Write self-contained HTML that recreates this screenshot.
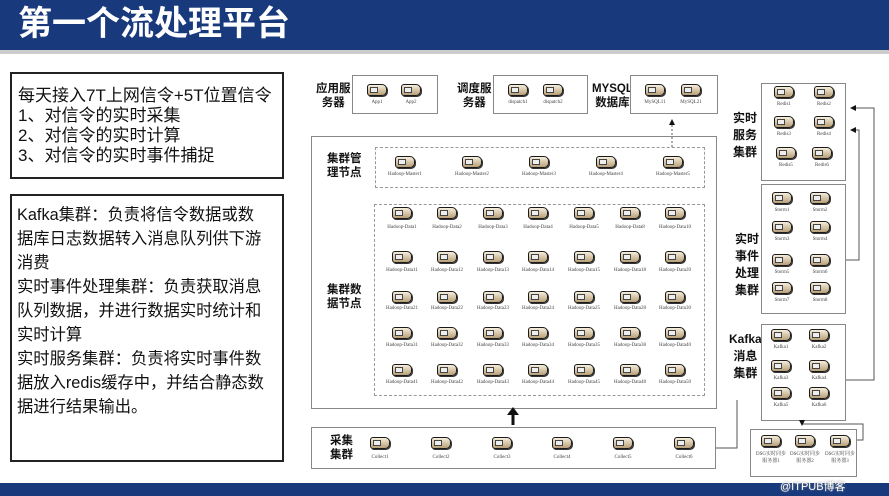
<!DOCTYPE html>
<html><head><meta charset="utf-8"><style>
*{margin:0;padding:0;box-sizing:border-box}
body{width:889px;height:496px;position:relative;background:#fff;overflow:hidden;font-family:"Liberation Sans","Noto Sans CJK SC",sans-serif}
.a{position:absolute}
.box{position:absolute;border:1.5px solid #888;background:#fff}
.bk{border:2px solid #222}
.dash{position:absolute;border:1px dashed #999}
.s{position:absolute;width:20px;height:12px;margin:-6px 0 0 -10px;border:1.5px solid #1a1a1a;border-radius:3px 5px 5px 3px;background:linear-gradient(#f6eedc,#b8a078);box-shadow:1px 1px 0 #333}
.s:before{content:"";position:absolute;left:2px;top:2px;width:6px;height:4px;border:1px solid #444;background:#eee}
.l{position:absolute;font-size:5px;color:#444;width:50px;margin-left:-25px;text-align:center;white-space:nowrap;font-family:"Liberation Serif","Noto Serif CJK SC",serif}
.lab{position:absolute;font-weight:bold;font-size:11.5px;line-height:14px;color:#111;text-align:center}
.t{position:absolute;font-size:15.5px;color:#111;white-space:nowrap}
</style></head><body>
<div class="a" style="left:0;top:0;width:889px;height:50px;background:#183a7c"></div>
<div class="a" style="left:0;top:50px;width:889px;height:4px;background:#ccc"></div>
<div class="a" style="left:18px;top:3px;color:#fff;font-size:34px;font-weight:bold;line-height:42px">第一个流处理平台</div>
<div class="a" style="left:0;top:483px;width:889px;height:13px;background:#183a7c"></div>
<div class="a" style="left:780px;top:478px;font-size:11px;color:#fff;text-shadow:0 0 2px #888">@ITPUB博客</div>

<div class="box bk" style="left:10px;top:72px;width:274px;height:107px"></div>
<div class="t" style="left:18px;top:86px;line-height:20px;font-size:17px">每天接入7T上网信令+5T位置信令<br>1、对信令的实时采集<br>2、对信令的实时计算<br>3、对信令的实时事件捕捉</div>
<div class="box bk" style="left:10px;top:194px;width:274px;height:268px"></div>
<div class="t" style="left:17px;top:203px;line-height:24px;font-size:16.3px">Kafka集群：负责将信令数据或数<br>据库日志数据转入消息队列供下游<br>消费<br>实时事件处理集群：负责获取消息<br>队列数据，并进行数据实时统计和<br>实时计算<br>实时服务集群：负责将实时事件数<br>据放入redis缓存中，并结合静态数<br>据进行结果输出。</div>

<!-- top boxes -->
<div class="lab" style="left:316px;top:82px">应用服<br>务器</div>
<div class="box" style="left:352px;top:75px;width:86px;height:39px"></div>
<div class="s" style="left:377px;top:90px"></div><div class="l" style="left:377px;top:100px">App1</div>
<div class="s" style="left:411px;top:90px"></div><div class="l" style="left:411px;top:100px">App2</div>
<div class="lab" style="left:457px;top:82px">调度服<br>务器</div>
<div class="box" style="left:493px;top:75px;width:95px;height:39px"></div>
<div class="s" style="left:518px;top:90px"></div><div class="l" style="left:518px;top:100px">dispatch1</div>
<div class="s" style="left:553px;top:90px"></div><div class="l" style="left:553px;top:100px">dispatch2</div>
<div class="lab" style="left:592px;top:82px">MYSQL<br>数据库</div>
<div class="box" style="left:630px;top:75px;width:88px;height:39px"></div>
<div class="s" style="left:655px;top:90px"></div><div class="l" style="left:655px;top:100px">MySQL11</div>
<div class="s" style="left:691px;top:90px"></div><div class="l" style="left:691px;top:100px">MySQL21</div>

<!-- big cluster -->
<div class="box" style="left:311px;top:136px;width:406px;height:273px"></div>
<div class="lab" style="left:327px;top:152px">集群管<br>理节点</div>
<div class="dash" style="left:375px;top:147px;width:330px;height:41px"></div>
<div class="s" style="left:405px;top:162px"></div><div class="l" style="left:405px;top:172px">Hadoop-Master1</div>
<div class="s" style="left:472px;top:162px"></div><div class="l" style="left:472px;top:172px">Hadoop-Master2</div>
<div class="s" style="left:539px;top:162px"></div><div class="l" style="left:539px;top:172px">Hadoop-Master3</div>
<div class="s" style="left:606px;top:162px"></div><div class="l" style="left:606px;top:172px">Hadoop-Master4</div>
<div class="s" style="left:673px;top:162px"></div><div class="l" style="left:673px;top:172px">Hadoop-Master5</div>
<div class="lab" style="left:327px;top:283px">集群数<br>据节点</div>
<div class="dash" style="left:374px;top:204px;width:331px;height:192px"></div>

<div class="s" style="left:402px;top:213px"></div><div class="l" style="left:402px;top:225px">Hadoop-Data1</div>
<div class="s" style="left:447px;top:213px"></div><div class="l" style="left:447px;top:225px">Hadoop-Data2</div>
<div class="s" style="left:493px;top:213px"></div><div class="l" style="left:493px;top:225px">Hadoop-Data3</div>
<div class="s" style="left:538px;top:213px"></div><div class="l" style="left:538px;top:225px">Hadoop-Data4</div>
<div class="s" style="left:584px;top:213px"></div><div class="l" style="left:584px;top:225px">Hadoop-Data5</div>
<div class="s" style="left:630px;top:213px"></div><div class="l" style="left:630px;top:225px">Hadoop-Data8</div>
<div class="s" style="left:675px;top:213px"></div><div class="l" style="left:675px;top:225px">Hadoop-Data10</div>

<div class="s" style="left:402px;top:257px"></div><div class="l" style="left:402px;top:268px">Hadoop-Data11</div>
<div class="s" style="left:447px;top:257px"></div><div class="l" style="left:447px;top:268px">Hadoop-Data12</div>
<div class="s" style="left:493px;top:257px"></div><div class="l" style="left:493px;top:268px">Hadoop-Data13</div>
<div class="s" style="left:538px;top:257px"></div><div class="l" style="left:538px;top:268px">Hadoop-Data14</div>
<div class="s" style="left:584px;top:257px"></div><div class="l" style="left:584px;top:268px">Hadoop-Data15</div>
<div class="s" style="left:630px;top:257px"></div><div class="l" style="left:630px;top:268px">Hadoop-Data18</div>
<div class="s" style="left:675px;top:257px"></div><div class="l" style="left:675px;top:268px">Hadoop-Data20</div>

<div class="s" style="left:402px;top:297px"></div><div class="l" style="left:402px;top:306px">Hadoop-Data21</div>
<div class="s" style="left:447px;top:297px"></div><div class="l" style="left:447px;top:306px">Hadoop-Data22</div>
<div class="s" style="left:493px;top:297px"></div><div class="l" style="left:493px;top:306px">Hadoop-Data23</div>
<div class="s" style="left:538px;top:297px"></div><div class="l" style="left:538px;top:306px">Hadoop-Data24</div>
<div class="s" style="left:584px;top:297px"></div><div class="l" style="left:584px;top:306px">Hadoop-Data25</div>
<div class="s" style="left:630px;top:297px"></div><div class="l" style="left:630px;top:306px">Hadoop-Data28</div>
<div class="s" style="left:675px;top:297px"></div><div class="l" style="left:675px;top:306px">Hadoop-Data30</div>

<div class="s" style="left:402px;top:333px"></div><div class="l" style="left:402px;top:343px">Hadoop-Data31</div>
<div class="s" style="left:447px;top:333px"></div><div class="l" style="left:447px;top:343px">Hadoop-Data32</div>
<div class="s" style="left:493px;top:333px"></div><div class="l" style="left:493px;top:343px">Hadoop-Data33</div>
<div class="s" style="left:538px;top:333px"></div><div class="l" style="left:538px;top:343px">Hadoop-Data34</div>
<div class="s" style="left:584px;top:333px"></div><div class="l" style="left:584px;top:343px">Hadoop-Data35</div>
<div class="s" style="left:630px;top:333px"></div><div class="l" style="left:630px;top:343px">Hadoop-Data38</div>
<div class="s" style="left:675px;top:333px"></div><div class="l" style="left:675px;top:343px">Hadoop-Data40</div>

<div class="s" style="left:402px;top:370px"></div><div class="l" style="left:402px;top:380px">Hadoop-Data41</div>
<div class="s" style="left:447px;top:370px"></div><div class="l" style="left:447px;top:380px">Hadoop-Data42</div>
<div class="s" style="left:493px;top:370px"></div><div class="l" style="left:493px;top:380px">Hadoop-Data43</div>
<div class="s" style="left:538px;top:370px"></div><div class="l" style="left:538px;top:380px">Hadoop-Data44</div>
<div class="s" style="left:584px;top:370px"></div><div class="l" style="left:584px;top:380px">Hadoop-Data45</div>
<div class="s" style="left:630px;top:370px"></div><div class="l" style="left:630px;top:380px">Hadoop-Data48</div>
<div class="s" style="left:675px;top:370px"></div><div class="l" style="left:675px;top:380px">Hadoop-Data50</div>

<!-- collect -->
<div class="box" style="left:311px;top:427px;width:405px;height:42px"></div>
<div class="lab" style="left:330px;top:434px">采集<br>集群</div>
<div class="s" style="left:380px;top:443px"></div><div class="l" style="left:380px;top:455px">Collect1</div>
<div class="s" style="left:441px;top:443px"></div><div class="l" style="left:441px;top:455px">Collect2</div>
<div class="s" style="left:502px;top:443px"></div><div class="l" style="left:502px;top:455px">Collect3</div>
<div class="s" style="left:562px;top:443px"></div><div class="l" style="left:562px;top:455px">Collect4</div>
<div class="s" style="left:623px;top:443px"></div><div class="l" style="left:623px;top:455px">Collect5</div>
<div class="s" style="left:684px;top:443px"></div><div class="l" style="left:684px;top:455px">Collect6</div>

<!-- right -->
<div class="lab" style="left:733px;top:110px;font-size:12px;line-height:17px">实时<br>服务<br>集群</div>
<div class="box" style="left:761px;top:83px;width:85px;height:98px"></div>
<div class="s" style="left:784px;top:92px"></div><div class="l" style="left:784px;top:102px">Redis1</div>
<div class="s" style="left:824px;top:92px"></div><div class="l" style="left:824px;top:102px">Redis2</div>
<div class="s" style="left:784px;top:122px"></div><div class="l" style="left:784px;top:132px">Redis3</div>
<div class="s" style="left:824px;top:122px"></div><div class="l" style="left:824px;top:132px">Redis4</div>
<div class="s" style="left:786px;top:153px"></div><div class="l" style="left:786px;top:163px">Redis5</div>
<div class="s" style="left:822px;top:153px"></div><div class="l" style="left:822px;top:163px">Redis6</div>

<div class="lab" style="left:735px;top:231px;font-size:12px;line-height:17px">实时<br>事件<br>处理<br>集群</div>
<div class="box" style="left:761px;top:184px;width:85px;height:130px"></div>
<div class="s" style="left:782px;top:198px"></div><div class="l" style="left:782px;top:208px">Storm1</div>
<div class="s" style="left:820px;top:198px"></div><div class="l" style="left:820px;top:208px">Storm2</div>
<div class="s" style="left:782px;top:227px"></div><div class="l" style="left:782px;top:237px">Storm3</div>
<div class="s" style="left:820px;top:227px"></div><div class="l" style="left:820px;top:237px">Storm4</div>
<div class="s" style="left:782px;top:260px"></div><div class="l" style="left:782px;top:270px">Storm5</div>
<div class="s" style="left:820px;top:260px"></div><div class="l" style="left:820px;top:270px">Storm6</div>
<div class="s" style="left:782px;top:288px"></div><div class="l" style="left:782px;top:298px">Storm7</div>
<div class="s" style="left:820px;top:288px"></div><div class="l" style="left:820px;top:298px">Storm8</div>

<div class="lab" style="left:729px;top:331px;font-size:12px;line-height:17px">Kafka<br>消息<br>集群</div>
<div class="box" style="left:761px;top:324px;width:85px;height:97px"></div>
<div class="s" style="left:781px;top:335px"></div><div class="l" style="left:781px;top:345px">Kafka1</div>
<div class="s" style="left:819px;top:335px"></div><div class="l" style="left:819px;top:345px">Kafka2</div>
<div class="s" style="left:781px;top:366px"></div><div class="l" style="left:781px;top:376px">Kafka3</div>
<div class="s" style="left:819px;top:366px"></div><div class="l" style="left:819px;top:376px">Kafka4</div>
<div class="s" style="left:781px;top:393px"></div><div class="l" style="left:781px;top:403px">Kafka5</div>
<div class="s" style="left:819px;top:393px"></div><div class="l" style="left:819px;top:403px">Kafka6</div>

<div class="box" style="left:750px;top:429px;width:107px;height:48px"></div>
<div class="s" style="left:771px;top:441px"></div><div class="l" style="left:771px;top:451px;line-height:7px">DSG实时同步<br>服务器1</div>
<div class="s" style="left:805px;top:441px"></div><div class="l" style="left:805px;top:451px;line-height:7px">DSG实时同步<br>服务器2</div>
<div class="s" style="left:840px;top:441px"></div><div class="l" style="left:840px;top:451px;line-height:7px">DSG实时同步<br>服务器3</div>

<svg class="a" style="left:0;top:0" width="889" height="496">
<defs><marker id="m" markerWidth="6" markerHeight="6" refX="5" refY="3" orient="auto"><path d="M0,0L6,3L0,6z" fill="#111"/></marker></defs>
<g fill="none" stroke="#555" stroke-width="1">
<path d="M672,147V120" stroke-dasharray="2,2" marker-end="url(#m)"/>
<path d="M846,260H859V130H851" marker-end="url(#m)"/>
<path d="M846,380H874V108H851" marker-end="url(#m)"/>
<path d="M857,440H863V424H802V425" marker-end="url(#m)"/>
<path d="M716,448H737V400"/>
</g>
<path d="M513,425V414" stroke="#111" stroke-width="3"/>
<path d="M507,415L513,407L519,415z" fill="#111"/>
</svg>
</body></html>
